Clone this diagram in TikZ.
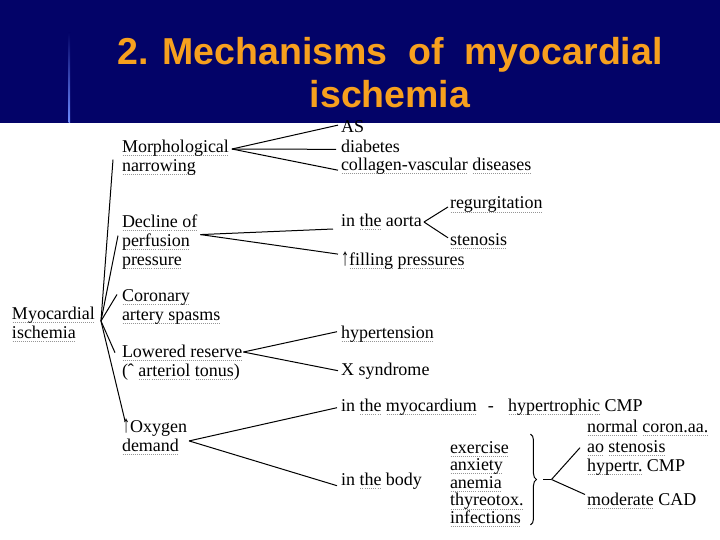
\documentclass[tikz,border=0pt]{standalone}
\usepackage{fontspec}
\setmainfont{Liberation Serif}
\newfontfamily\tfont{Liberation Sans}
\usetikzlibrary{decorations.pathreplacing,calc}
\definecolor{navy}{RGB}{3,3,104}
\definecolor{ttl}{RGB}{247,160,30}
\definecolor{dotgray}{RGB}{150,150,150}
\definecolor{vline}{RGB}{110,140,255}
\newsavebox\dubox
\newcommand\du[1]{\sbox\dubox{#1}\rlap{\raisebox{-3.5pt}{\color{dotgray}\hbox to \wd\dubox{\xleaders\hbox to 2pt{\hss\rule{1pt}{0.8pt}\hss}\hfill}}}\usebox\dubox}
\newcommand\uparr{\scalebox{0.9}[1.35]{↑}}
\begin{document}
\begin{tikzpicture}[x=1pt,y=-1pt,
  txt/.style={anchor=base west, inner sep=0pt, outer sep=0pt, align=left, font={\fontsize{18}{19}\selectfont}},
  conn/.style={line width=1pt, black}]
\useasboundingbox (0,0) rectangle (720,540);
\fill[white] (0,0) rectangle (720,540);
\fill[navy] (0,0) rectangle (720,123);
\shade[top color=navy, bottom color=vline] (68.6,33) rectangle (70.2,123);
\node[anchor=base, font={\tfont\bfseries\fontsize{37.5}{43}\selectfont}, text=ttl, align=center, inner sep=0pt] (title) at (390,108) {2. Mechanisms\ \ of\ \ myocardial\\ischemia};

% left column (multi-line nodes are placed at the baseline of their last line)
\node[txt] (root) at (12,338) {\du{Myocardial}\\\du{ischemia}};
\node[txt] (mor) at (122,171.5) {\du{Morphological}\\\du{narrowing}};
\node[txt] (dec) at (122,265) {\du{Decline of}\\\du{perfusion}\\\du{pressure}};
\node[txt] (cor) at (122,320) {\du{Coronary}\\\du{artery spasms}};
\node[txt] (low) at (122,376.5) {\du{Lowered reserve}\\(ˆ\ \du{arteriol} \du{tonus})};
\node[txt] (oxy) at (122,451.5) {\uparr Oxygen\\\du{demand}};

% right column
\node[txt] (as) at (341,133) {AS};
\node[txt] (dia) at (341,152.5) {diabetes};
\node[txt] (col) at (341,170.5) {\du{collagen-vascular} \du{diseases}};
\node[txt] (aor) at (341,226.5) {in \du{the} aorta};
\node[txt] (reg) at (450,209) {\du{regurgitation}};
\node[txt] (ste) at (450,245) {\du{stenosis}};
\node[txt] (fil) at (341,265) {\uparr\du{filling} \du{pressures}};
\node[txt] (hyp) at (341,338) {\du{hypertension}};
\node[txt] (xsy) at (341,375) {X syndrome};
\node[txt] (myo) at (341,411) {in \du{the} \du{myocardium}\hspace{0.6em}-\hspace{0.8em}\du{hypertrophic} CMP};
\node[txt] (bod) at (341,485) {in \du{the} body};
\node[txt, font={\fontsize{18}{17.6}\selectfont}] (lst) at (450,523.4) {\du{exercise}\\\du{anxiety}\\\du{anemia}\\\du{thyreotox.}\\\du{infections}};
\node[txt, font={\fontsize{18}{19.5}\selectfont}] (rt) at (587,471.5) {\du{normal} \du{coron.aa.}\\\du{ao} \du{stenosis}\\\du{hypertr.} CMP};
\node[txt] (mod) at (587,505) {\du{moderate} CAD};

% root fan
\coordinate (j0) at ([xshift=6pt,yshift=3pt]root.east);
\draw[conn] (j0) -- ([xshift=-9pt,yshift=-2pt]mor.west);
\draw[conn] (j0) -- ([xshift=-4pt,yshift=6pt]dec.west);
\draw[conn] (j0) -- ([xshift=-5pt,yshift=12pt]cor.west);
\draw[conn] (j0) -- ([xshift=-7pt,yshift=10pt]low.west);
\draw[conn] (j0) -- ([xshift=3pt,yshift=-2pt]oxy.north west);

% morphological fan
\coordinate (jm) at ([xshift=3pt,yshift=-9pt]mor.north east);
\draw[conn] (jm) -- ([xshift=-3pt,yshift=2pt]as.west);
\draw[conn] (jm) -- ([xshift=-5pt,yshift=-3pt]dia.west);
\draw[conn] (jm) -- ([xshift=-3pt,yshift=-4pt]col.west);

% decline fan
\coordinate (jd) at ([xshift=3pt,yshift=7pt]dec.east);
\draw[conn] (jd) -- ([xshift=-8pt,yshift=-7pt]aor.west);
\draw[conn] (jd) -- ([xshift=-3pt,yshift=6pt]fil.west);
\coordinate (ja) at ([xshift=2pt]aor.east);
\draw[conn] (ja) -- ([xshift=-2pt,yshift=-2pt]reg.west);
\draw[conn] (ja) -- ([xshift=-2pt,yshift=3pt]ste.west);

% lowered reserve fan
\coordinate (jl) at ([xshift=1pt,yshift=-7pt]low.north east);
\draw[conn] (jl) -- ([xshift=-4pt,yshift=2pt]hyp.west);
\draw[conn] (jl) -- ([xshift=-3pt]xsy.west);

% oxygen fan
\coordinate (jo) at ([xshift=2pt,yshift=-4pt]oxy.east);
\draw[conn] (jo) -- ([xshift=-4pt,yshift=-1pt]myo.west);
\draw[conn] (jo) -- ([xshift=-4pt,yshift=-5pt]bod.west);

% brace and final fan
\coordinate (bt) at ([xshift=7pt,yshift=7pt]lst.north east);
\coordinate (bb) at ([xshift=7pt,yshift=2pt]lst.south east);
\draw[conn, decorate, decoration={brace, amplitude=6pt}] (bt) -- (bb);
\coordinate (btip) at ($(bt)!0.5!(bb)+(6,0)$);
\coordinate (jb) at ($(btip)+(15,0)$);
\draw[conn] ($(btip)+(7,0)$) -- (jb);
\draw[conn] (jb) -- ([xshift=-7pt]rt.west);
\draw[conn] (jb) -- ([xshift=-2pt,yshift=6pt]mod.west);
\end{tikzpicture}
\end{document}
